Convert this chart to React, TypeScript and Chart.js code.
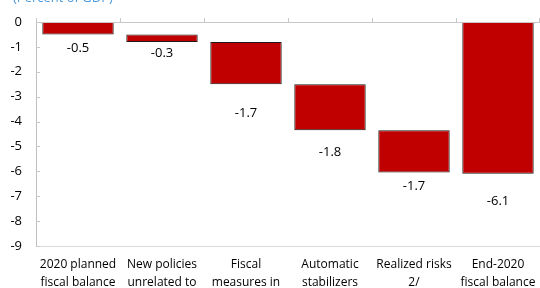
import React, { useEffect, useRef } from "react";
import { Chart, registerables } from "chart.js";

Chart.register(...registerables);

const categories: string[][] = [
  ["2020 planned", "fiscal balance"],
  ["New policies", "unrelated to", "COVID-19"],
  ["Fiscal", "measures in", "response to COVID-19"],
  ["Automatic", "stabilizers"],
  ["Realized risks", "2/"],
  ["End-2020", "fiscal balance"],
];
const barStart: number[] = [0, -0.5, -0.8, -2.5, -4.35, 0];
const barEnd: number[] = [-0.5, -0.8, -2.5, -4.35, -6.05, -6.1];
const barLabels: string[] = ["-0.5", "-0.3", "-1.7", "-1.8", "-1.7", "-6.1"];
const yTicks: number[] = [0, -1, -2, -3, -4, -5, -6, -7, -8, -9];
const titleText = "(Percent of GDP)";

const labelGap = [14, 11, 29, 22, 14, 27];
const FONT = "'Open Sans', 'Noto Sans', sans-serif";
const TOP = -10;
const H = 340;

const decorPlugin = {
  id: "decor",
  afterDatasetsDraw(chart: any) {
    const ctx = chart.ctx;
    const meta = chart.getDatasetMeta(0);
    ctx.save();
    ctx.fillStyle = "#000";
    ctx.font = `13px ${FONT}`;
    ctx.textAlign = "center";
    ctx.textBaseline = "middle";
    meta.data.forEach((el: any, i: number) => {
      const bottom = Math.max(el.y, el.base);
      ctx.fillText(barLabels[i], el.x, bottom + labelGap[i]);
    });
    ctx.restore();
  },
  afterDraw(chart: any) {
    const ctx = chart.ctx;
    const { left, right, top } = chart.chartArea;
    const x = chart.scales.x;
    const y = chart.scales.y;
    ctx.save();
    ctx.fillStyle = "#4B9BE0";
    ctx.font = `13px ${FONT}`;
    ctx.textAlign = "left";
    ctx.textBaseline = "middle";
    ctx.fillText(titleText, 13, 8);
    ctx.strokeStyle = "#c8c8c8";
    ctx.lineWidth = 1;
    ctx.beginPath();
    ctx.moveTo(left, Math.round(top) + 0.5);
    ctx.lineTo(right, Math.round(top) + 0.5);
    const n = categories.length;
    const step = x.getPixelForValue(1) - x.getPixelForValue(0);
    for (let i = 0; i <= n; i++) {
      const px = i === n ? right - 1 : x.getPixelForValue(i) - step / 2;
      const rx = Math.round(px) + 0.5;
      ctx.moveTo(rx, top);
      ctx.lineTo(rx, top - 4);
    }
    yTicks.forEach((v) => {
      const py = Math.round(y.getPixelForValue(v)) + 0.5;
      ctx.moveTo(left, py);
      ctx.lineTo(left + 4, py);
    });
    ctx.stroke();
    ctx.restore();
  },
};

export default function App() {
  const ref = useRef<HTMLCanvasElement | null>(null);
  useEffect(() => {
    if (!ref.current) return;
    const chart = new Chart(ref.current, {
      type: "bar",
      data: {
        labels: categories,
        datasets: [
          {
            data: barStart.map((s, i) => [s, barEnd[i]]) as any,
            backgroundColor: "#C00000",
            borderColor: "#1a1a1a",
            borderWidth: 1,
            borderSkipped: false,
            barPercentage: 0.85,
            categoryPercentage: 1,
          },
        ],
      },
      options: {
        animation: false,
        responsive: false,
        maintainAspectRatio: false,
        layout: { padding: { top: 32, left: 0, right: 0, bottom: 0 } },
        plugins: {
          legend: { display: false },
          tooltip: { enabled: false },
          title: { display: false },
        },
        scales: {
          x: {
            grid: { display: false, drawTicks: false },
            border: { color: "#d9d9d9" },
            afterFit: (s: any) => {
              s.height = H - (246 - TOP);
              s.paddingLeft = 0;
              s.paddingRight = 0;
            },
            ticks: {
              color: "#000",
              font: { family: FONT, size: 12, lineHeight: 1.5 },
              maxRotation: 0,
              autoSkip: false,
              padding: 10,
            },
          },
          y: {
            min: -9,
            max: 0,
            afterBuildTicks: (s: any) => {
              s.ticks = yTicks.map((v) => ({ value: v }));
            },
            afterFit: (s: any) => {
              s.width = 36;
              s.paddingTop = 0;
              s.paddingBottom = 0;
            },
            grid: { display: false, drawTicks: false },
            border: { color: "#bfbfbf" },
            ticks: {
              color: "#000",
              font: { family: FONT, size: 13 },
              padding: 14,
            },
          },
        },
      },
      plugins: [decorPlugin],
    });
    return () => chart.destroy();
  }, []);
  return (
    <div style={{ position: "fixed", left: 0, top: TOP, width: 540, height: H }}>
      <canvas ref={ref} width={540} height={H} style={{ width: 540, height: H }} />
    </div>
  );
}
